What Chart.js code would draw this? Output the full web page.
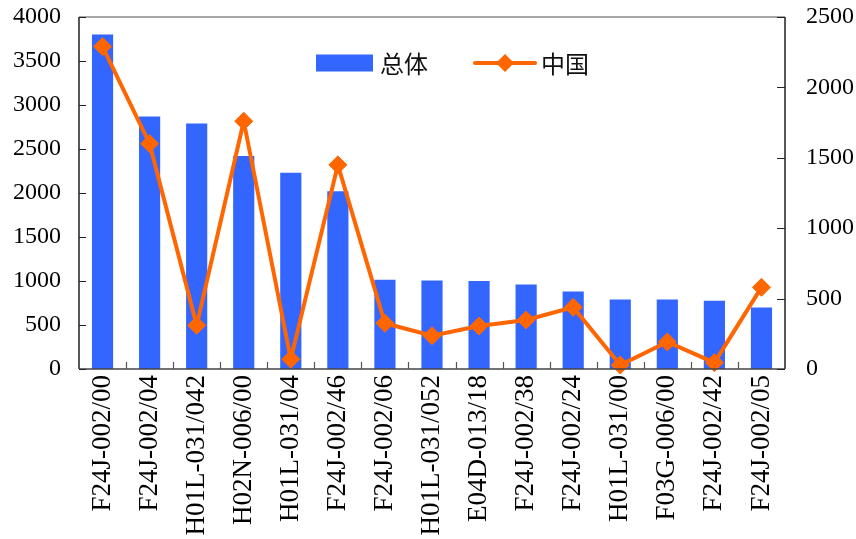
<!DOCTYPE html>
<html>
<head>
<meta charset="utf-8">
<script src="https://cdn.jsdelivr.net/npm/chart.js@4.4.0/dist/chart.umd.min.js"></script>
<style>
  html, body { margin: 0; padding: 0; background: #ffffff; }
  #wrap { width: 856px; height: 539px; }
</style>
</head>
<body>
<div id="wrap"><canvas id="c" width="856" height="539"></canvas></div>
<script>
// Patent classification codes and counts
const categories = [
  'F24J-002/00', 'F24J-002/04', 'H01L-031/042', 'H02N-006/00', 'H01L-031/04',
  'F24J-002/46', 'F24J-002/06', 'H01L-031/052', 'E04D-013/18', 'F24J-002/38',
  'F24J-002/24', 'H01L-031/00', 'F03G-006/00', 'F24J-002/42', 'F24J-002/05'
];
const totalCounts = [3800, 2870, 2790, 2420, 2230, 2020, 1015, 1005, 1000, 960, 880, 790, 790, 775, 700];
const chinaCounts = [2290, 1600, 310, 1760, 69, 1450, 325, 236, 305, 348, 438, 28, 192, 45, 580];
const seriesNames = ['总体', '中国'];
const leftAxisMax = 4000;
const rightAxisMax = 2500;
const tickStep = 500;

const BLUE = '#3366FF';
const ORANGE = '#FF6600';
const SERIF = "'Liberation Serif', 'DejaVu Serif', serif";
const CJK = "'Noto Sans CJK SC', sans-serif";

// Frame, inward tick marks and category separators
const framePlugin = {
  id: 'frame',
  afterDatasetsDraw(chart) {
    const { ctx, chartArea: a, scales } = chart;
    ctx.save();
    ctx.lineWidth = 1.5;
    // top edge
    ctx.strokeStyle = '#8a8a8a';
    ctx.beginPath(); ctx.moveTo(a.left, a.top); ctx.lineTo(a.right, a.top); ctx.stroke();
    // axes
    ctx.strokeStyle = '#222222';
    ctx.beginPath();
    ctx.moveTo(a.left, a.top); ctx.lineTo(a.left, a.bottom);
    ctx.moveTo(a.right, a.top); ctx.lineTo(a.right, a.bottom);
    ctx.stroke();
    ctx.strokeStyle = '#444444';
    ctx.beginPath(); ctx.moveTo(a.left, a.bottom); ctx.lineTo(a.right, a.bottom); ctx.stroke();
    // inward ticks on value axes
    ctx.lineWidth = 1.2;
    ctx.strokeStyle = '#222222';
    ctx.beginPath();
    scales.y.ticks.forEach(t => {
      const py = Math.round(scales.y.getPixelForValue(t.value)) + 0.5;
      ctx.moveTo(a.left, py); ctx.lineTo(a.left + 7, py);
    });
    scales.y1.ticks.forEach(t => {
      const py = Math.round(scales.y1.getPixelForValue(t.value)) + 0.5;
      ctx.moveTo(a.right, py); ctx.lineTo(a.right - 8, py);
    });
    ctx.stroke();
    // category separators along the bottom axis
    ctx.strokeStyle = '#555555';
    ctx.beginPath();
    const n = categories.length;
    for (let i = 1; i < n; i++) {
      const px = Math.round((scales.x.getPixelForValue(i - 1) + scales.x.getPixelForValue(i)) / 2) + 0.5;
      ctx.moveTo(px, a.bottom); ctx.lineTo(px, a.bottom - 7);
    }
    ctx.stroke();
    ctx.restore();
  }
};

// Legend drawn inside the plot area
const insideLegend = {
  id: 'insideLegend',
  afterDraw(chart) {
    const { ctx, chartArea: a } = chart;
    const ds = chart.data.datasets;
    const bar = ds.find(d => d.type === 'bar');
    const line = ds.find(d => d.type === 'line');
    const cy = a.top + 46;
    let x = a.left + 237;
    ctx.save();
    ctx.font = '24px ' + CJK;
    ctx.textBaseline = 'middle';
    // bar entry
    ctx.fillStyle = bar.backgroundColor;
    ctx.fillRect(x, cy - 8.5, 57, 17);
    x += 64;
    ctx.fillStyle = '#111111';
    ctx.fillText(bar.label, x, cy + 1);
    x += ctx.measureText(bar.label).width + 47;
    // line entry
    ctx.strokeStyle = line.borderColor;
    ctx.lineWidth = 4;
    ctx.lineCap = 'round';
    ctx.beginPath(); ctx.moveTo(x, cy); ctx.lineTo(x + 60, cy); ctx.stroke();
    const mx = x + 30, r = 9;
    ctx.fillStyle = line.borderColor;
    ctx.beginPath();
    ctx.moveTo(mx, cy - r); ctx.lineTo(mx + r, cy); ctx.lineTo(mx, cy + r); ctx.lineTo(mx - r, cy);
    ctx.closePath(); ctx.fill();
    x += 66;
    ctx.fillStyle = '#111111';
    ctx.fillText(line.label, x, cy + 1);
    ctx.restore();
  }
};

const plainNumber = v => String(v);

new Chart(document.getElementById('c'), {
  data: {
    labels: categories,
    datasets: [
      {
        type: 'line',
        label: seriesNames[1],
        data: chinaCounts,
        yAxisID: 'y1',
        order: 0,
        borderColor: ORANGE,
        backgroundColor: ORANGE,
        borderWidth: 4,
        tension: 0,
        pointStyle: 'rectRot',
        pointRadius: 9,
        pointHoverRadius: 9,
        pointBackgroundColor: ORANGE,
        pointBorderColor: ORANGE,
        pointBorderWidth: 1,
        clip: false
      },
      {
        type: 'bar',
        label: seriesNames[0],
        data: totalCounts,
        yAxisID: 'y',
        order: 1,
        backgroundColor: BLUE,
        borderWidth: 0,
        categoryPercentage: 1,
        barPercentage: 0.45
      }
    ]
  },
  options: {
    responsive: false,
    animation: false,
    layout: { padding: { top: 17, left: 0, right: 0, bottom: 0 } },
    plugins: { legend: { display: false }, tooltip: { enabled: false } },
    scales: {
      x: {
        offset: true,
        grid: { display: false, drawTicks: false },
        border: { display: false },
        ticks: {
          autoSkip: false, minRotation: 90, maxRotation: 90, padding: 6,
          color: '#000000', font: { family: SERIF, size: 27 }
        },
        afterFit(s) { s.height = 170; s.paddingLeft = 0; s.paddingRight = 0; }
      },
      y: {
        position: 'left',
        min: 0, max: leftAxisMax,
        grid: { display: false, drawTicks: false },
        border: { display: false },
        ticks: { stepSize: tickStep, padding: 18, color: '#000000', font: { family: SERIF, size: 24 }, callback: plainNumber },
        afterFit(s) { s.width = 79; s.paddingTop = 0; s.paddingBottom = 0; }
      },
      y1: {
        position: 'right',
        min: 0, max: rightAxisMax,
        grid: { display: false, drawTicks: false },
        border: { display: false },
        ticks: { stepSize: tickStep, padding: 21, color: '#000000', font: { family: SERIF, size: 24 }, callback: plainNumber },
        afterFit(s) { s.width = 71; s.paddingTop = 0; s.paddingBottom = 0; }
      }
    }
  },
  plugins: [framePlugin, insideLegend]
});
</script>
</body>
</html>
